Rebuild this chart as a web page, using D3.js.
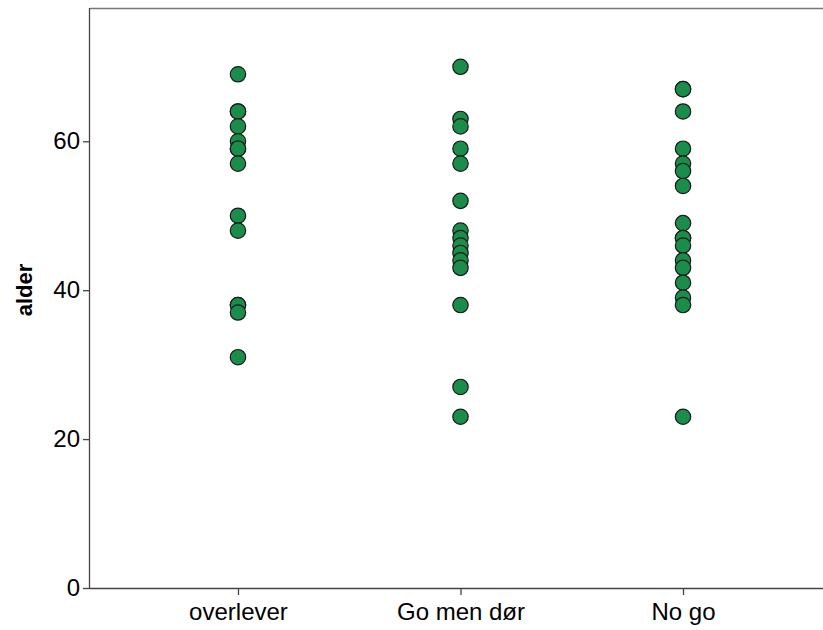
<!DOCTYPE html>
<html>
<head>
<meta charset="utf-8">
<script src="https://cdn.jsdelivr.net/npm/d3@7"></script>
<style>
  body { margin: 0; background: #fff; }
  svg { display: block; font-family: "Liberation Sans", Arial, sans-serif; }
</style>
</head>
<body>
<svg id="chart" width="823" height="630"></svg>
<script>
const categories = ["overlever", "Go men dør", "No go"];
const overleverAges = [69, 64, 64, 62, 60, 59, 59, 57, 50, 48, 38, 38, 37, 31];
const goMenDoerAges = [70, 63, 62, 59, 57, 52, 48, 47, 46, 45, 44, 43, 38, 27, 23];
const noGoAges = [67, 67, 64, 59, 57, 56, 54, 49, 47, 47, 46, 44, 43, 41, 39, 38, 23];
const yTicks = [0, 20, 40, 60];
const yLabel = "alder";

(function () {
const seriesByCategory = [overleverAges, goMenDoerAges, noGoAges];
const points = [];
categories.forEach((c, i) => seriesByCategory[i].forEach(v => points.push({ cat: c, val: v })));

const svg = d3.select("#chart");
const plotLeft = 90, plotTop = 8, plotBottom = 588, plotRight = 831;

const x = d3.scalePoint().domain(categories).range([plotLeft, plotRight]).padding(0.665);
const y = d3.scaleLinear().domain([0, 77.9]).range([plotBottom, plotTop]);

// frame top line
svg.append("line")
  .attr("x1", plotLeft).attr("x2", 823).attr("y1", plotTop + 0.5).attr("y2", plotTop + 0.5)
  .attr("stroke", "#777").attr("stroke-width", 1.5);

// y axis
const yAxis = svg.append("g").attr("transform", `translate(${plotLeft},0)`)
  .call(d3.axisLeft(y).tickValues(yTicks).tickSize(7).tickPadding(3).tickFormat(d3.format("d")));
yAxis.select(".domain").attr("stroke", "#444").attr("stroke-width", 1.3).attr("d", `M-0.5,${plotBottom}V${plotTop}`);
yAxis.selectAll(".tick line").attr("stroke", "#444").attr("stroke-width", 1.3);
yAxis.selectAll(".tick text").attr("font-size", 24).attr("fill", "#000")
  .attr("font-family", "Liberation Sans, Arial, sans-serif");

// x axis
const xAxis = svg.append("g").attr("transform", `translate(0,${plotBottom})`)
  .call(d3.axisBottom(x).tickSize(7).tickPadding(8));
xAxis.select(".domain").attr("stroke", "#444").attr("stroke-width", 1.3).attr("d", `M${plotLeft},0.5H823`);
xAxis.selectAll(".tick line").attr("stroke", "#444").attr("stroke-width", 1.3);
xAxis.selectAll(".tick text").attr("font-size", 24).attr("fill", "#000")
  .attr("font-family", "Liberation Sans, Arial, sans-serif");

// y label
svg.append("text")
  .attr("transform", `translate(32,${(plotTop + plotBottom) / 2 - 8}) rotate(-90)`)
  .attr("text-anchor", "middle")
  .attr("font-size", 22).attr("font-weight", "bold")
  .text(yLabel);

// points
svg.append("g").selectAll("circle").data(points).join("circle")
  .attr("cx", d => x(d.cat))
  .attr("cy", d => y(d.val))
  .attr("r", 7.7)
  .attr("fill", "#1a8d4b")
  .attr("stroke", "#1a1a1a")
  .attr("stroke-width", 1.2);
})();
</script>
</body>
</html>
